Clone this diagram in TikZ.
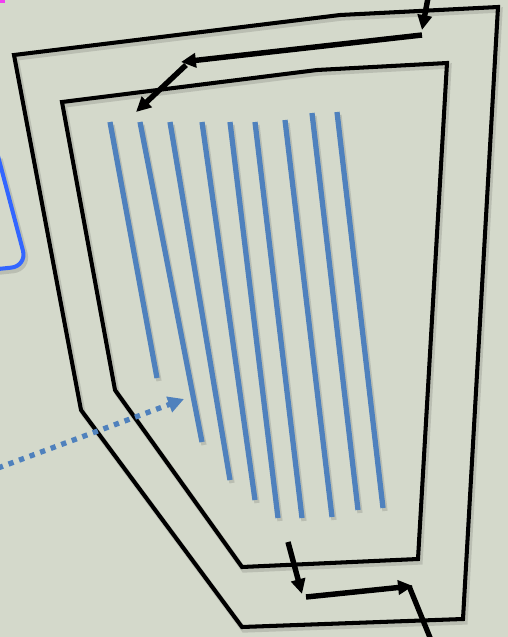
\documentclass[tikz,border=0pt]{standalone}
\usepackage{tikz}
\usetikzlibrary{arrows.meta,positioning,calc}
\definecolor{bg}{HTML}{D4D9CB}
\definecolor{lane}{HTML}{4F81BD}
\definecolor{frame}{HTML}{3366FF}
\definecolor{pink}{HTML}{F040F0}

\begin{document}
\begin{tikzpicture}[x=0.02cm,y=-0.02cm,
   wall/.style={draw=black,line width=2.3pt,line join=miter},
   flow/.style={draw=black,line width=3.1pt,-{Triangle[length=8.5pt,width=8pt]}},
   lanes/.style={draw=lane,line width=3pt},
   hint/.style={draw=lane,line width=3pt,dash pattern=on 3pt off 3.4pt,
      -{Triangle[length=9pt,width=9pt]}},
   shade/.style={black,opacity=0.12,line width=3pt,shift={(2,3)}}]
  \fill[bg] (0,0) rectangle (508,637);
  \useasboundingbox (0,0) rectangle (508,637);
  \draw[pink,line width=2pt] (-2,1) -- (5,1);
  \draw[shade,rounded corners=9pt] (-2,156) -- (27,266) -- (-2,269);
  \draw[frame,line width=2.3pt,rounded corners=9pt] (-2,156) -- (27,266) -- (-2,269);
  \draw[shade] (14,55) -- (340,15) -- (498,7) -- (463,619) -- (242,627) -- (81,410) -- cycle;
  \draw[shade] (62,102) -- (317,70) -- (447,63) -- (418,559) -- (242,567) -- (115,390) -- cycle;
  \draw[wall] (14,55) -- (340,15) -- (498,7) -- (463,619) -- (242,627) -- (81,410) -- cycle;
  \draw[wall] (62,102) -- (317,70) -- (447,63) -- (418,559) -- (242,567) -- (115,390) -- cycle;
  \foreach \xa/\ya/\xb/\yb in {110/122/157/378, 140/122/202/442, 170/122/230/480,
     202/122/255/500, 230/122/278/518, 255/122/302/518, 285/120/332/517,
     312/113/358/510, 337/112/383/508}{
     \draw[shade] (\xa,\ya) -- (\xb,\yb);
     \draw[lanes] (\xa,\ya) -- (\xb,\yb);}
  \coordinate (in) at (428,-2);
  \coordinate (t1) at (422,30);
  \coordinate (t2) at (422,35);
  \coordinate (t3) at (181,62);
  \coordinate (t4) at (186,65);
  \coordinate (t5) at (136,112);
  \coordinate (b1) at (288,542);
  \coordinate (b2) at (302,594);
  \coordinate (b3) at (306,597);
  \coordinate (b4) at (413,586);
  \coordinate (b5) at (409,586);
  \coordinate (out) at (431,640);
  \coordinate (src) at (-2,468);
  \coordinate (dst) at (184,399);
  \draw[flow] (in) -- (t1);
  \draw[flow] (t2) -- (t3);
  \draw[flow] (t4) -- (t5);
  \draw[flow] (b1) -- (b2);
  \draw[flow] (b3) -- (b4);
  \draw[wall,line width=3pt] (b5) -- (out);
  \draw[hint] (src) -- (dst);
\end{tikzpicture}
\end{document}
